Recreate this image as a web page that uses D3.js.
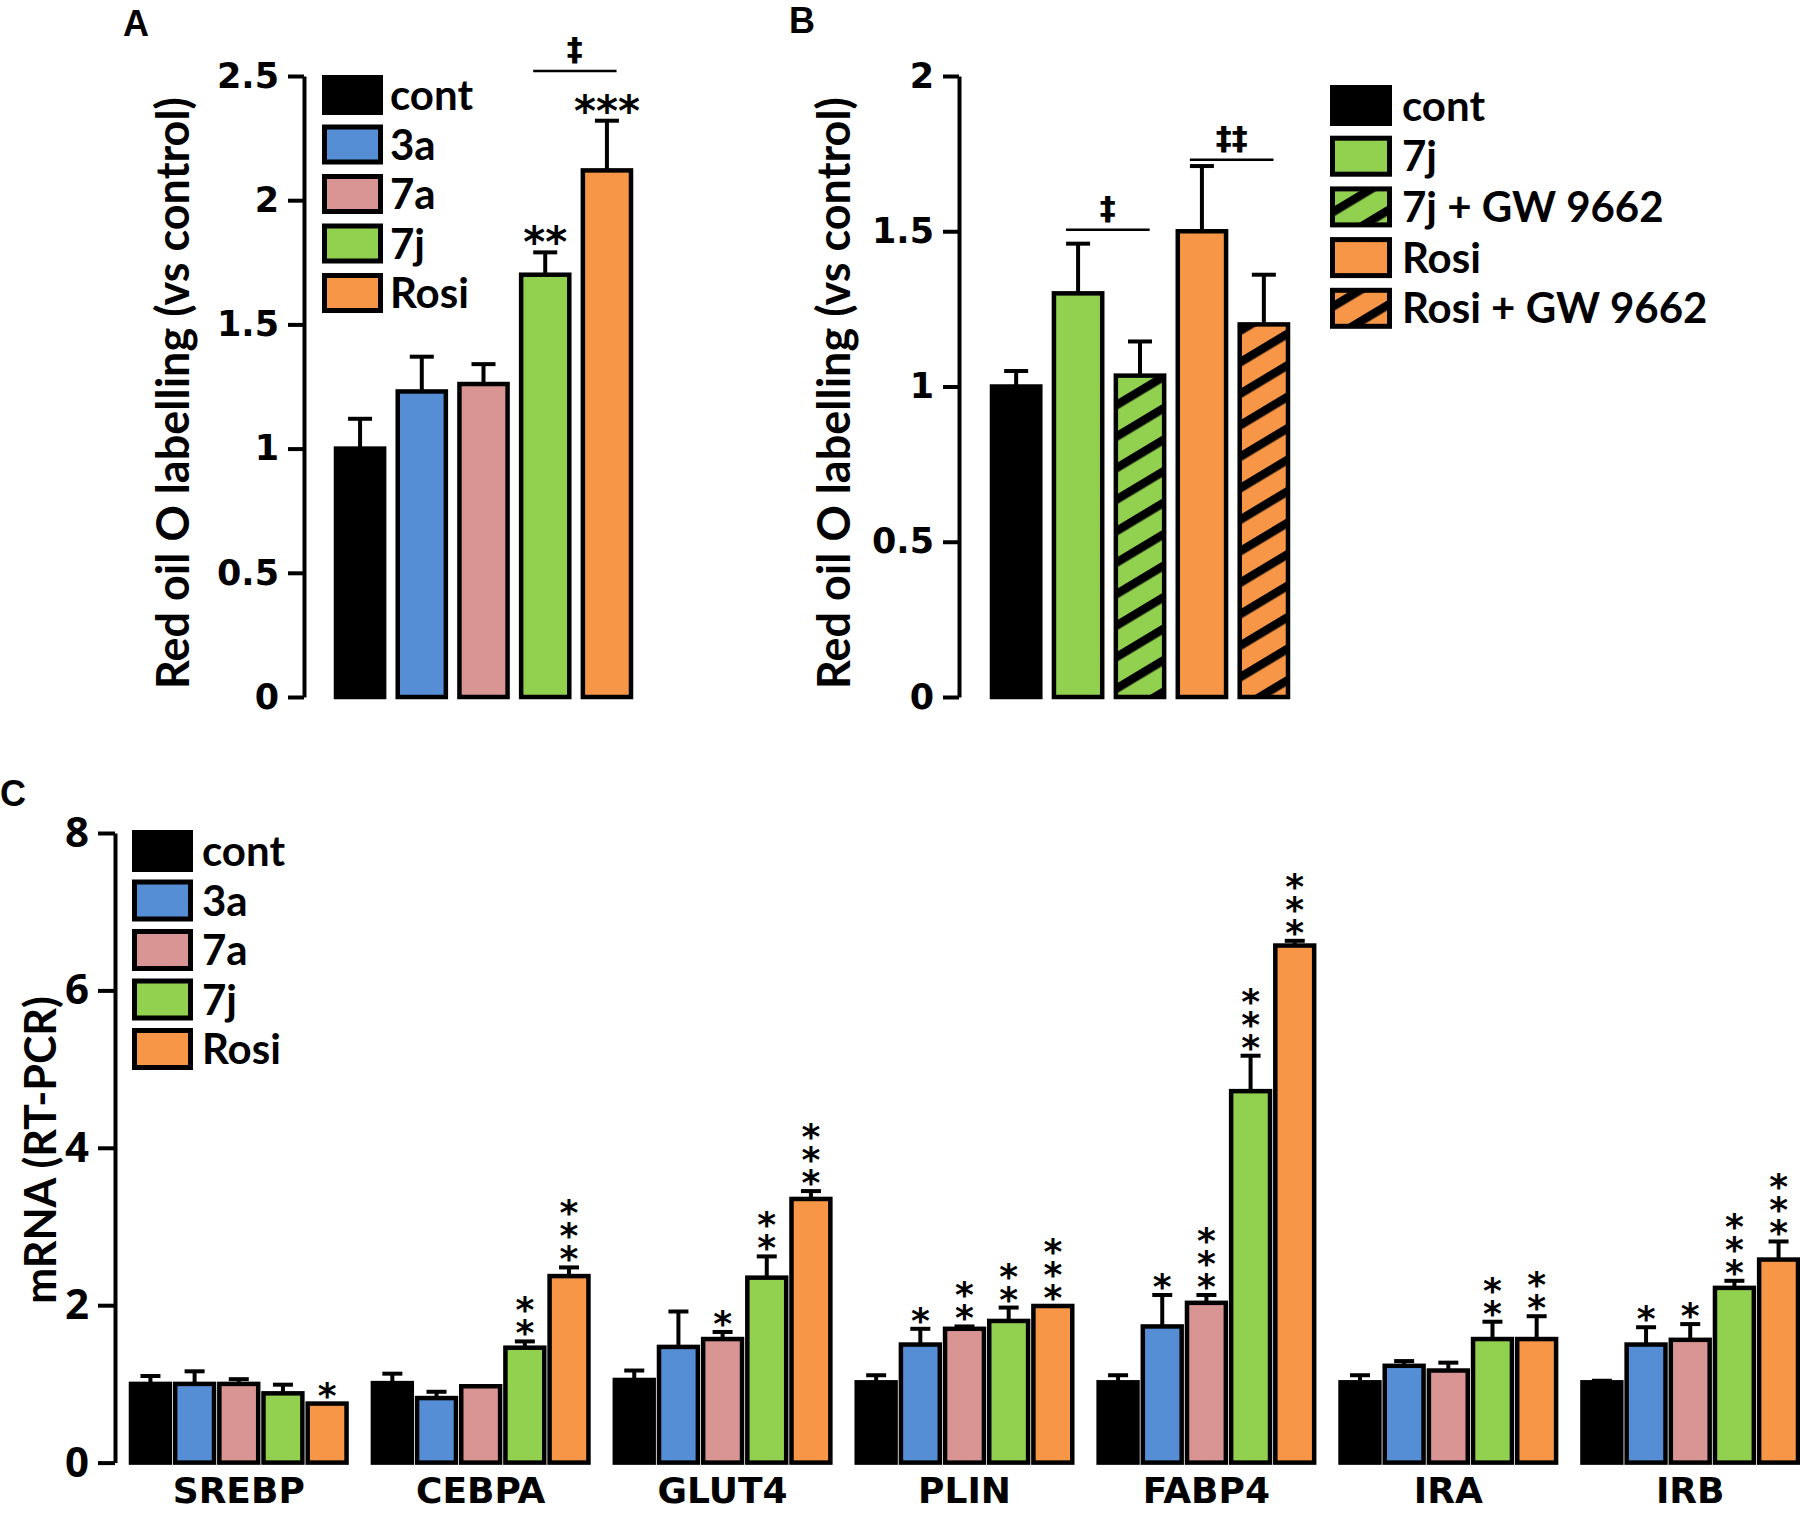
<!DOCTYPE html>
<html>
<head>
<meta charset="utf-8">
<script src="https://cdn.jsdelivr.net/npm/d3@7"></script>
<style>
body { margin: 0; background: #fff; }
</style>
</head>
<body>
<div id="chart-area"></div>
<script>
// ---- panel A : Red oil O, compounds
var groupsA = ["cont", "3a", "7a", "7j", "Rosi"];
var meanA = [1.00, 1.23, 1.26, 1.70, 2.12];
var semA = [0.12, 0.14, 0.08, 0.09, 0.20];
var starsA = ["", "", "", "**", "***"];
var ticksA = [0, 0.5, 1, 1.5, 2, 2.5];
var bracketsA = [{from: "7j", to: "Rosi", level: 2.52, mark: "\u2021"}];

// ---- panel B : Red oil O, with GW 9662
var groupsB = ["cont", "7j", "7j + GW 9662", "Rosi", "Rosi + GW 9662"];
var meanB = [1.00, 1.30, 1.035, 1.50, 1.20];
var semB = [0.05, 0.16, 0.11, 0.21, 0.16];
var starsB = ["", "", "", "", ""];
var ticksB = [0, 0.5, 1, 1.5, 2];
var bracketsB = [
    {from: "7j", to: "7j + GW 9662", level: 1.505, mark: "\u2021"},
    {from: "Rosi", to: "Rosi + GW 9662", level: 1.73, mark: "\u2021\u2021"}
];

// ---- panel C : mRNA by gene
var genes = ["SREBP", "CEBPA", "GLUT4", "PLIN", "FABP4", "IRA", "IRB"];
var treatments = ["cont", "3a", "7a", "7j", "Rosi"];
var ticksC = [0, 2, 4, 6, 8];
var meanCont = [1.00, 1.01, 1.05, 1.02, 1.02, 1.02, 1.02];
var mean3a   = [1.00, 0.82, 1.47, 1.50, 1.73, 1.23, 1.50];
var mean7a   = [1.00, 0.97, 1.57, 1.70, 2.03, 1.17, 1.56];
var mean7j   = [0.88, 1.46, 2.35, 1.80, 4.72, 1.57, 2.22];
var meanRosi = [0.75, 2.37, 3.35, 1.99, 6.57, 1.57, 2.58];
var semCont = [0.10, 0.12, 0.12, 0.09, 0.09, 0.09, 0.02];
var sem3a   = [0.16, 0.08, 0.45, 0.20, 0.40, 0.06, 0.22];
var sem7a   = [0.06, 0.00, 0.09, 0.03, 0.10, 0.10, 0.20];
var sem7j   = [0.11, 0.08, 0.27, 0.17, 0.45, 0.22, 0.09];
var semRosi = [0.00, 0.11, 0.10, 0.00, 0.06, 0.29, 0.23];
var starsCont = ["", "", "", "", "", "", ""];
var stars3a   = ["", "", "", "*", "*", "", "*"];
var stars7a   = ["", "", "*", "**", "***", "", "*"];
var stars7j   = ["", "**", "**", "**", "***", "**", "***"];
var starsRosi = ["*", "***", "***", "***", "***", "**", "***"];

// colours
var colors = {cont: "#000000", "3a": "#558ed5", "7a": "#d99594", "7j": "#92d050", Rosi: "#f79646"};
var fillB = {
    "cont": "#000000",
    "7j": "#92d050",
    "7j + GW 9662": "url(#hatchGreen)",
    "Rosi": "#f79646",
    "Rosi + GW 9662": "url(#hatchOrange)"
};

var tickFont = "'DejaVu Sans', Verdana, sans-serif";
var labelFont = "Lato, 'Open Sans', sans-serif";
var sansFont = "'Open Sans', sans-serif";

var svg = d3.select("#chart-area").append("svg")
    .attr("width", 1800)
    .attr("height", 1513)
    .style("display", "block");

svg.append("rect").attr("width", 1800).attr("height", 1513).attr("fill", "#fff");

// hatch patterns
var defs = svg.append("defs");
[["hatchGreen", "#92d050"], ["hatchOrange", "#f79646"]].forEach(function(p) {
    var pat = defs.append("pattern")
        .attr("id", p[0])
        .attr("patternUnits", "userSpaceOnUse")
        .attr("width", 10)
        .attr("height", 27)
        .attr("patternTransform", "rotate(-31)");
    pat.append("rect").attr("width", 10).attr("height", 27).attr("fill", p[1]);
    pat.append("rect").attr("width", 10).attr("height", 8.5).attr("fill", "#000");
});

function styleAxis(axisG, fontSize, family) {
    axisG.select(".domain").attr("stroke", "#000").attr("stroke-width", 4);
    axisG.selectAll(".tick line").attr("stroke", "#000").attr("stroke-width", 4);
    axisG.selectAll(".tick text")
        .attr("fill", "#000")
        .style("font-family", family)
        .style("font-weight", "bold")
        .style("font-size", fontSize + "px");
}

// rotated label, x is the text baseline
function yLabel(x, y, txt, size, family) {
    svg.append("text")
        .attr("transform", "translate(" + x + "," + y + ") rotate(-90)")
        .attr("text-anchor", "middle")
        .style("font-family", family)
        .style("font-weight", "bold")
        .style("font-size", size + "px")
        .text(txt);
}

function panelLetter(x, y, txt) {
    svg.append("text")
        .attr("x", x).attr("y", y)
        .style("font-family", "'Liberation Sans', Arial, sans-serif")
        .style("font-weight", "bold")
        .style("font-size", "36px")
        .text(txt);
}

function legend(items, fills, x0, y0, step, w, h, tx, fontSize) {
    var lg = svg.append("g");
    items.forEach(function(name, i) {
        var top = y0 + i * step;
        lg.append("rect")
            .attr("x", x0 + 2.5).attr("y", top + 2.5)
            .attr("width", w - 5).attr("height", h - 5)
            .attr("fill", fills[name])
            .attr("stroke", "#000").attr("stroke-width", 5);
        lg.append("text")
            .attr("x", tx)
            .attr("y", top + h / 2 + fontSize * 0.36)
            .style("font-family", labelFont)
            .style("font-weight", "bold")
            .style("font-size", fontSize + "px")
            .text(name);
    });
}

// simple bar panel (A and B)
function barPanel(opt) {
    var x = d3.scaleBand().domain(opt.groups).range(opt.xRange).paddingInner(0.22).paddingOuter(0);
    var y = d3.scaleLinear().domain(opt.yDomain).range([697, 76]);
    var g = svg.append("g");

    var axisG = g.append("g")
        .attr("transform", "translate(" + opt.axisX + ",0)")
        .call(d3.axisLeft(y).tickValues(opt.ticks).tickSize(16).tickSizeOuter(0).tickPadding(9)
            .tickFormat(function(d) { return d3.format("")(d); }));
    styleAxis(axisG, 35, tickFont);

    var data = opt.groups.map(function(k, i) {
        return {key: k, mean: opt.mean[i], sem: opt.sem[i], stars: opt.stars[i]};
    });

    // error bars
    var eb = g.selectAll(".err").data(data).enter().append("g");
    eb.append("line")
        .attr("x1", function(d) { return x(d.key) + x.bandwidth() / 2; })
        .attr("x2", function(d) { return x(d.key) + x.bandwidth() / 2; })
        .attr("y1", function(d) { return y(d.mean); })
        .attr("y2", function(d) { return y(d.mean + d.sem); })
        .attr("stroke", "#000").attr("stroke-width", 4);
    eb.append("line")
        .attr("x1", function(d) { return x(d.key) + x.bandwidth() / 2 - 12; })
        .attr("x2", function(d) { return x(d.key) + x.bandwidth() / 2 + 12; })
        .attr("y1", function(d) { return y(d.mean + d.sem); })
        .attr("y2", function(d) { return y(d.mean + d.sem); })
        .attr("stroke", "#000").attr("stroke-width", 4);

    g.selectAll(".bar").data(data).enter().append("rect")
        .attr("x", function(d) { return x(d.key); })
        .attr("width", x.bandwidth())
        .attr("y", function(d) { return y(d.mean); })
        .attr("height", function(d) { return y(0) - y(d.mean); })
        .attr("fill", function(d) { return opt.fills[d.key]; })
        .attr("stroke", "#000").attr("stroke-width", 4.5);

    g.selectAll(".stars").data(data.filter(function(d) { return d.stars; })).enter().append("text")
        .attr("x", function(d) { return x(d.key) + x.bandwidth() / 2; })
        .attr("y", function(d) { return y(d.mean + d.sem) - 19 + 24; })
        .attr("text-anchor", "middle")
        .style("font-family", tickFont)
        .style("font-weight", "bold")
        .style("font-size", "42px")
        .text(function(d) { return d.stars; });

    opt.brackets.forEach(function(b) {
        var bw = x.bandwidth();
        var x1 = x(b.from) + bw / 2 - 0.25 * bw;
        var x2 = x(b.to) + bw / 2 + 0.2 * bw;
        g.append("line")
            .attr("x1", x1).attr("x2", x2)
            .attr("y1", y(b.level)).attr("y2", y(b.level))
            .attr("stroke", "#000").attr("stroke-width", 2.5);
        g.append("text")
            .attr("x", (x1 + x2) / 2)
            .attr("y", y(b.level) - 11)
            .attr("text-anchor", "middle")
            .style("font-family", tickFont)
            .style("font-weight", "bold")
            .style("font-size", "32px")
            .text(b.mark);
    });
}

// Panel A
barPanel({
    groups: groupsA, mean: meanA, sem: semA, stars: starsA, ticks: ticksA,
    brackets: bracketsA, yDomain: [0, 2.5], xRange: [336, 631], axisX: 304,
    fills: colors
});
legend(groupsA, colors, 322, 75, 49.5, 61, 40, 390, 42);
yLabel(189, 393, "Red oil O labelling  (vs control)", 45, labelFont);
panelLetter(123, 36, "A");

// Panel B
barPanel({
    groups: groupsB, mean: meanB, sem: semB, stars: starsB, ticks: ticksB,
    brackets: bracketsB, yDomain: [0, 2], xRange: [992, 1288], axisX: 959,
    fills: fillB
});
legend(groupsB, fillB, 1330, 85, 50.7, 62, 41, 1402, 42);
yLabel(850, 393, "Red oil O labelling  (vs control)", 45, labelFont);
panelLetter(789, 33, "B");

// Panel C
var meansC = {cont: meanCont, "3a": mean3a, "7a": mean7a, "7j": mean7j, Rosi: meanRosi};
var semsC = {cont: semCont, "3a": sem3a, "7a": sem7a, "7j": sem7j, Rosi: semRosi};
var starsC = {cont: starsCont, "3a": stars3a, "7a": stars7a, "7j": stars7j, Rosi: starsRosi};

var x0 = d3.scaleBand().domain(genes).range([131, 1798]).paddingInner(0.109).paddingOuter(0);
var x1 = d3.scaleBand().domain(treatments).range([0, x0.bandwidth()]).paddingInner(0.12).paddingOuter(0);
var yC = d3.scaleLinear().domain([0, 8]).range([1462.6, 833]);

var gC = svg.append("g");
var axisC = gC.append("g")
    .attr("transform", "translate(115,0)")
    .call(d3.axisLeft(yC).tickValues(ticksC).tickSize(17).tickSizeOuter(0).tickPadding(9));
styleAxis(axisC, 42, sansFont);

var rowsC = [];
genes.forEach(function(gene, gi) {
    treatments.forEach(function(t) {
        rowsC.push({gene: gene, t: t, mean: meansC[t][gi], sem: semsC[t][gi], stars: starsC[t][gi]});
    });
});

function cx(d) { return x0(d.gene) + x1(d.t) + x1.bandwidth() / 2; }

var errRows = rowsC.filter(function(d) { return d.sem > 0; });
gC.selectAll(".stem").data(errRows).enter().append("line")
    .attr("x1", cx).attr("x2", cx)
    .attr("y1", function(d) { return yC(d.mean); })
    .attr("y2", function(d) { return yC(d.mean + d.sem); })
    .attr("stroke", "#000").attr("stroke-width", 4);
gC.selectAll(".cap").data(errRows).enter().append("line")
    .attr("x1", function(d) { return cx(d) - 10; })
    .attr("x2", function(d) { return cx(d) + 10; })
    .attr("y1", function(d) { return yC(d.mean + d.sem); })
    .attr("y2", function(d) { return yC(d.mean + d.sem); })
    .attr("stroke", "#000").attr("stroke-width", 4);

gC.selectAll(".bar").data(rowsC).enter().append("rect")
    .attr("x", function(d) { return x0(d.gene) + x1(d.t); })
    .attr("width", x1.bandwidth())
    .attr("y", function(d) { return yC(d.mean); })
    .attr("height", function(d) { return yC(0) - yC(d.mean); })
    .attr("fill", function(d) { return colors[d.t]; })
    .attr("stroke", "#000").attr("stroke-width", 4.5);

// stacked asterisks: one vertical text per bar
var starRows = rowsC.filter(function(d) { return d.stars.length > 0; });
gC.selectAll(".starstack").data(starRows).enter().append("text")
    .attr("x", cx)
    .attr("y", function(d) { return yC(d.mean + d.sem) - 6; })
    .attr("text-anchor", "end")
    .style("writing-mode", "vertical-rl")
    .style("text-orientation", "upright")
    .style("letter-spacing", "-18px")
    .style("font-family", tickFont)
    .style("font-weight", "bold")
    .style("font-size", "36px")
    .text(function(d) { return d.stars; });

gC.selectAll(".gene").data(genes).enter().append("text")
    .attr("x", function(d) { return x0(d) + x0.bandwidth() / 2; })
    .attr("y", 1503)
    .attr("text-anchor", "middle")
    .style("font-family", tickFont)
    .style("font-weight", "bold")
    .style("font-size", "36px")
    .text(function(d) { return d; });

legend(treatments, colors, 132, 830, 49.5, 61, 42, 202, 42);
yLabel(56, 1150, "mRNA (RT-PCR)", 43, labelFont);
panelLetter(0, 806, "C");
</script>
</body>
</html>
